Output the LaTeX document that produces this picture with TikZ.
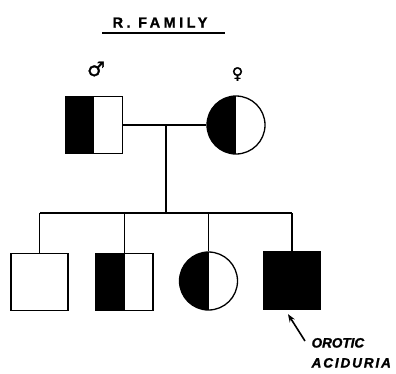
\documentclass[tikz,border=0pt]{standalone}
\usepackage{fontspec}
\setmainfont{Liberation Sans}
\newfontfamily\symfont{DejaVu Sans}
\usetikzlibrary{positioning,arrows.meta}
\tikzset{male node/.style={rectangle,draw,minimum size=57pt,inner sep=0pt,line width=1.3pt},
	female node/.style={circle,draw,minimum size=58pt,inner sep=0pt,line width=1.3pt},
	half/.style={path picture={\fill (path picture bounding box.south west) rectangle (path picture bounding box.north);}},
	full/.style={fill=black},
	sign/.style={font=\symfont\fontsize{#1}{#1}\selectfont\addfontfeature{FakeBold=1.5},inner sep=0pt},
	label text/.style={font=\fontsize{13.5}{20}\selectfont\bfseries\itshape\addfontfeature{LetterSpace=#1,FakeBold=1.5},inner sep=0pt,anchor=base west},
}

\begin{document}
\begin{tikzpicture}[x=1pt,y=-1pt,line width=1.3pt]
	\useasboundingbox (0,0) rectangle (396,373);
	\node[font=\fontsize{14.5}{16}\selectfont\bfseries\addfontfeature{LetterSpace=24,FakeBold=1.2},inner sep=0pt,anchor=base west] (title) at (112,27.5) {R. FAMILY};
	\draw[line width=1.6pt] (102,33) -- (225,33);
	
	\node[male node,half] (father) at (94,125) {};
	\node[female node,half] (mother) at (236,125) {};
	\node[sign=20] (male) at (96,69) {♂};
	\node[sign=16] (female) at (237.5,74) {♀};
	
	\node[male node] (c1) at (39.5,282) {};
	\node[male node,half] (c2) at (124.5,282) {};
	\node[female node,half] (c3) at (208.5,281) {};
	\node[male node,full] (c4) at (292,280.5) {};
	
	\coordinate (mid) at (166,125);
	\coordinate (sib) at (166,213);
	
	\path[draw]
	(father) -- (mother)
	(mid) -- (sib)
	(c1 |- sib) -- (c4 |- sib)
	(c1 |- sib) -- (c1)
	(c2 |- sib) -- (c2)
	(c3 |- sib) -- (c3)
	(c4 |- sib) -- (c4);
	
	\node[label text=0] (note1) at (311,347.5) {OROTIC};
	\node[label text=14] (note2) at (311,367.5) {ACIDURIA};
	\coordinate (tail) at (305,341);
	\draw[-{Stealth[length=8pt,width=6pt]},line width=1.6pt] (tail) -- ([shift={(-4pt,-4.5pt)}]c4.south);
\end{tikzpicture}
\end{document}
